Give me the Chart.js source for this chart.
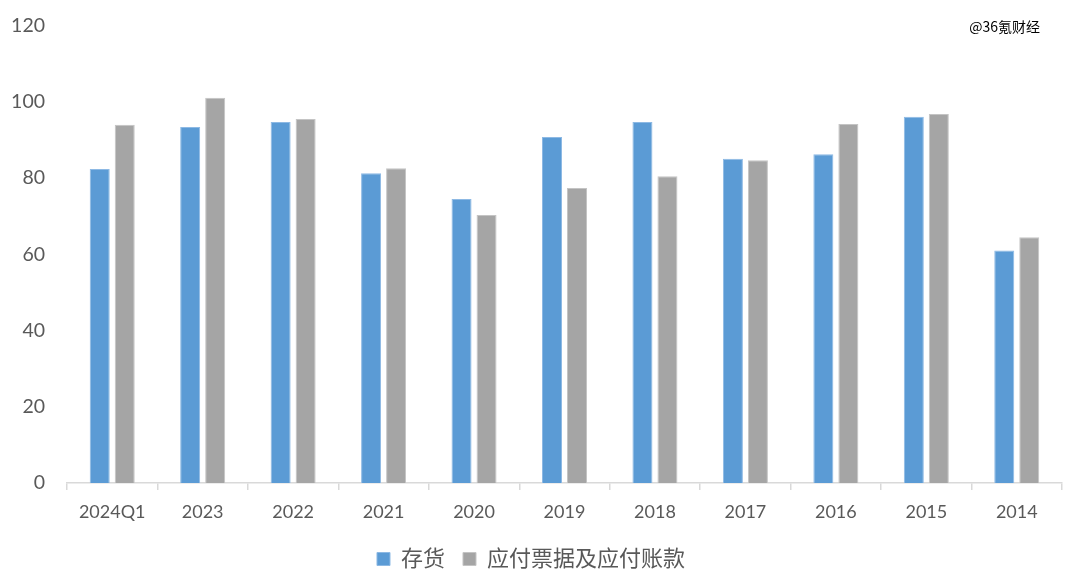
<!DOCTYPE html>
<html>
<head>
<meta charset="utf-8">
<script src="https://cdn.jsdelivr.net/npm/chart.js@4.4.1/dist/chart.umd.min.js"></script>
<style>
  html,body{margin:0;padding:0;background:#fff;}
  #wrap{position:relative;width:1080px;height:580px;}
  #mark{position:absolute;right:40px;top:16px;font:14px "Noto Sans CJK SC",sans-serif;color:#000;}
</style>
</head>
<body>
<div id="wrap">
  <canvas id="c" width="1080" height="580"></canvas>
  <div id="mark">@36氪财经</div>
</div>
<script>
const categories = ['2024Q1','2023','2022','2021','2020','2019','2018','2017','2016','2015','2014'];
const inventory = [82.4, 93.4, 94.7, 81.3, 74.5, 90.8, 94.7, 85.1, 86.3, 96.1, 61.0];
const payables  = [94.0, 101.1, 95.5, 82.6, 70.3, 77.4, 80.5, 84.7, 94.2, 96.8, 64.5];
const seriesNames = ['存货', '应付票据及应付账款'];
const yTicks = [0, 20, 40, 60, 80, 100, 120];

const FONT = "Lato, 'Noto Sans CJK SC', sans-serif";
const TXT = '#595959';

new Chart(document.getElementById('c'), {
  type: 'bar',
  data: {
    labels: categories,
    datasets: [
      { label: seriesNames[0], data: inventory, backgroundColor: '#5B9BD5', borderColor: '#8DB9E4', borderWidth: 1,
        categoryPercentage: 0.553, barPercentage: 0.8 },
      { label: seriesNames[1], data: payables, backgroundColor: '#A5A5A5', borderColor: '#C4C4C4', borderWidth: 1,
        categoryPercentage: 0.553, barPercentage: 0.8 }
    ]
  },
  options: {
    responsive: false,
    animation: false,
    devicePixelRatio: 1,
    layout: { padding: { top: 15, right: 18, left: 0, bottom: 0 } },
    plugins: {
      tooltip: { enabled: false },
      legend: {
        position: 'bottom',
        labels: {
          color: TXT,
          font: { family: FONT, size: 22 },
          boxWidth: 13, boxHeight: 13, padding: 18
        }
      }
    },
    scales: {
      x: {
        grid: { display: true, drawOnChartArea: false, offset: true, color: '#D9D9D9', tickLength: 7, lineWidth: 1.5 },
        border: { display: true, color: '#D9D9D9', width: 1.5 },
        ticks: { color: TXT, font: { family: FONT, size: 18 }, padding: 11, maxRotation: 0 },
        afterFit: (s) => { s.height = 47; }
      },
      y: {
        min: 0, max: 120,
        afterBuildTicks: (s) => { s.ticks = yTicks.map(v => ({ value: v })); },
        grid: { display: false },
        border: { display: false },
        ticks: { color: TXT, font: { family: FONT, size: 19.5 }, padding: 14 },
        afterFit: (s) => { s.width = 67; }
      }
    }
  }
});
</script>
</body>
</html>
